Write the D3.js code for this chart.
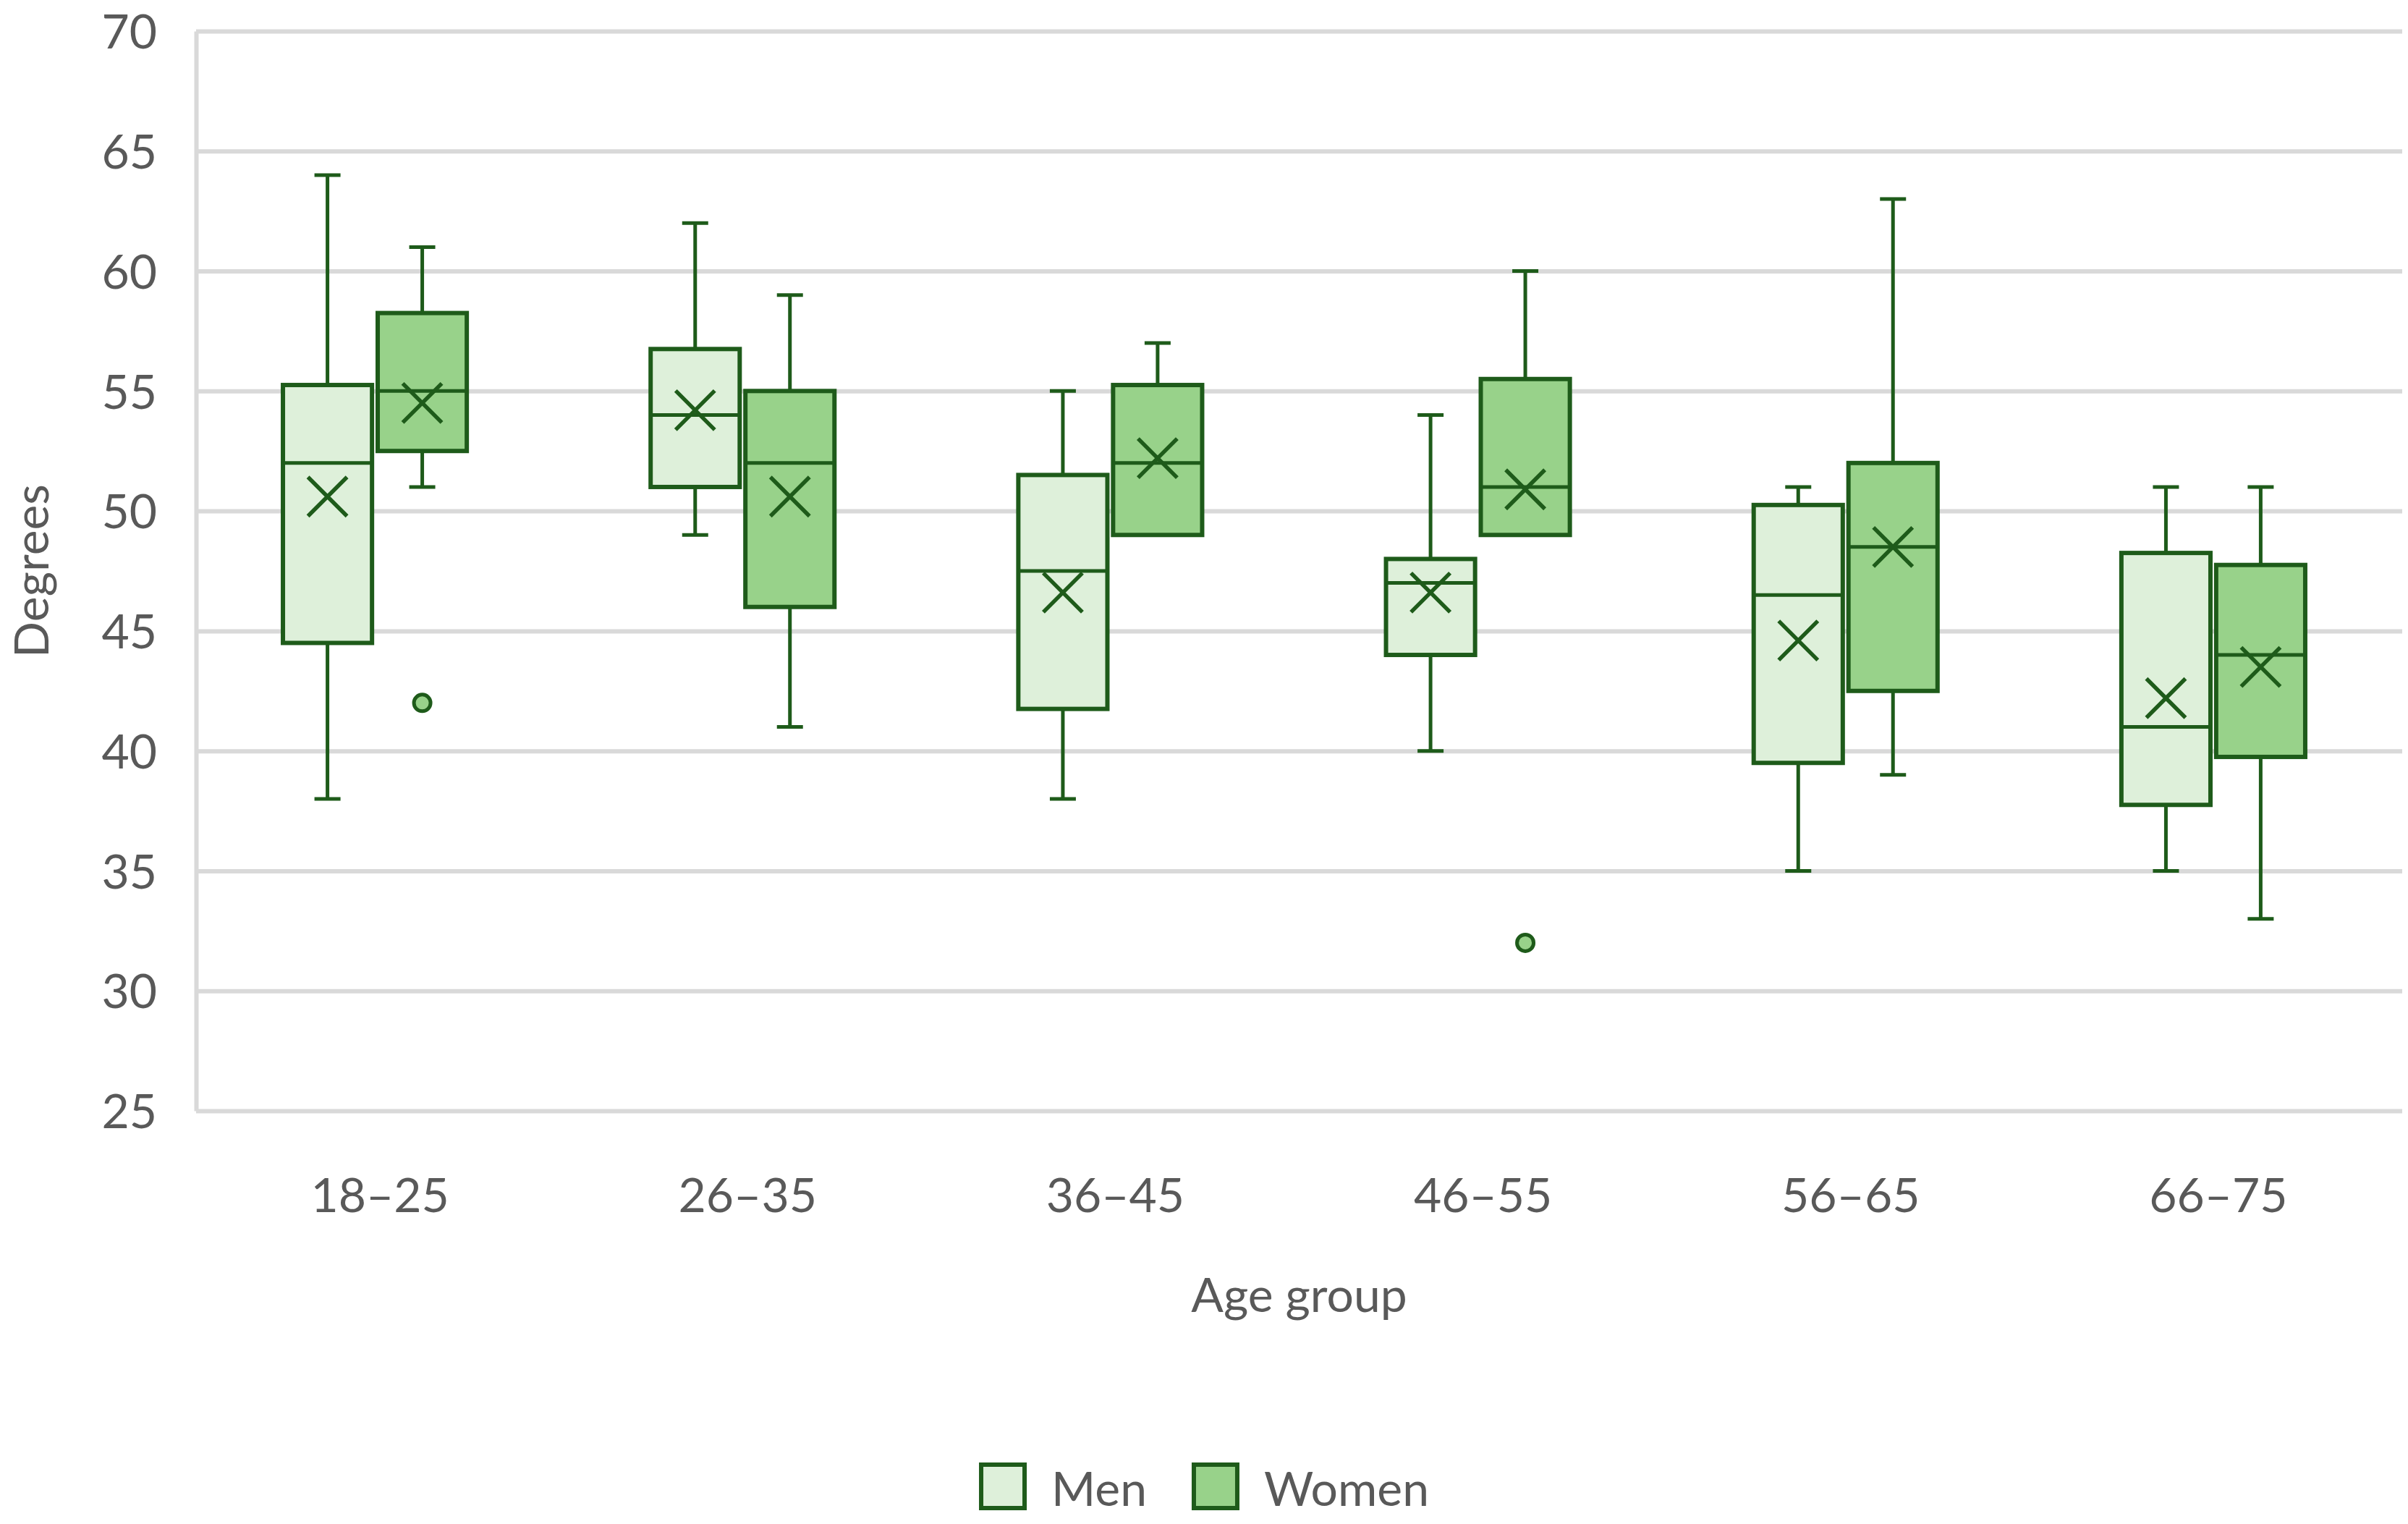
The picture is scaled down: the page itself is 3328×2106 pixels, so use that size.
<!DOCTYPE html>
<html>
<head>
<meta charset="utf-8">
<script src="https://cdn.jsdelivr.net/npm/d3@7"></script>
<style>
  body { margin: 0; background: #fff; }
  text { font-family: Lato, "Open Sans", sans-serif; fill: #595959; }
</style>
</head>
<body>
<div id="chart"></div>
<script>
// data
var ageGroups = ["18–25", "26–35", "36–45", "46–55", "56–65", "66–75"];
var series = ["Men", "Women"];
var yTicks = [25, 30, 35, 40, 45, 50, 55, 60, 65, 70];

var menMin    = [38, 49, 38, 40, 35, 35];
var menQ1     = [44.5, 51, 41.75, 44, 39.5, 37.75];
var menMedian = [52, 54, 47.5, 47, 46.5, 41];
var menQ3     = [55.25, 56.75, 51.5, 48, 50.25, 48.25];
var menMax    = [64, 62, 55, 54, 51, 51];
var menMean   = [50.6, 54.2, 46.6, 46.6, 44.6, 42.2];
var menOutliers = [[], [], [], [], [], []];

var womenMin    = [51, 41, 49, 49, 39, 33];
var womenQ1     = [52.5, 46, 49, 49, 42.5, 39.75];
var womenMedian = [55, 52, 52, 51, 48.5, 44];
var womenQ3     = [58.25, 55, 55.25, 55.5, 52, 47.75];
var womenMax    = [61, 59, 57, 60, 63, 51];
var womenMean   = [54.5, 50.6, 52.2, 50.9, 48.5, 43.5];
var womenOutliers = [[42], [], [], [32], [], []];

var svgWidth = 3328;
var svgHeight = 2106;
var margin = { top: 43, right: 8, bottom: 571, left: 271 };
var width = svgWidth - margin.left - margin.right;
var height = svgHeight - margin.top - margin.bottom;

var stroke = "#1E5B1A";
var fills = { Men: "#DEF0DA", Women: "#98D28A" };

// build box rows from the arrays
var boxes = [];
ageGroups.forEach(function(g, i) {
  boxes.push({ group: g, s: "Men", min: menMin[i], q1: menQ1[i], med: menMedian[i], q3: menQ3[i], max: menMax[i], mean: menMean[i], out: menOutliers[i] });
  boxes.push({ group: g, s: "Women", min: womenMin[i], q1: womenQ1[i], med: womenMedian[i], q3: womenQ3[i], max: womenMax[i], mean: womenMean[i], out: womenOutliers[i] });
});

var svg = d3.select("#chart")
  .append("svg")
  .attr("width", svgWidth)
  .attr("height", svgHeight);

var chartGroup = svg.append("g")
  .attr("transform", `translate(${margin.left}, ${margin.top})`);

var x0 = d3.scaleBand().domain(ageGroups).range([0, width]);
var bw = x0.bandwidth();
var x1 = d3.scaleBand().domain(series)
  .range([bw * 0.25 - 7, bw * 0.75 - 7])
  .paddingInner(0.06);

var y = d3.scaleLinear().domain([25, 70]).range([height, 0]);

// y axis with gridlines
var leftAxis = d3.axisLeft(y).tickValues(yTicks).tickSize(-width).tickSizeOuter(0).tickPadding(54);
var yAxis = chartGroup.append("g").call(leftAxis);
yAxis.select(".domain").attr("stroke", "#D9D9D9").attr("stroke-width", 6);
yAxis.selectAll(".tick line").attr("stroke", "#D9D9D9").attr("stroke-width", 6);
yAxis.selectAll(".tick text")
  .style("font-size", "66px")
  .attr("fill", "#595959")
  .attr("dy", "0.36em");

// x axis labels
var bottomAxis = d3.axisBottom(x0).tickSize(0);
var xAxis = chartGroup.append("g")
  .attr("transform", `translate(0, ${height})`)
  .call(bottomAxis);
xAxis.select(".domain").remove();
xAxis.selectAll(".tick text")
  .style("font-size", "66px")
  .attr("fill", "#595959")
  .attr("y", 140)
  .attr("dy", null);

// boxes
var boxG = chartGroup.selectAll(".box")
  .data(boxes)
  .enter()
  .append("g")
  .attr("class", "box")
  .attr("transform", d => `translate(${x0(d.group) + x1(d.s)}, 0)`);

var boxW = x1.bandwidth();
var capW = 36;
var cx = boxW / 2;

// whiskers
boxG.filter(d => d.max > d.q3).append("line")
  .attr("x1", cx).attr("x2", cx)
  .attr("y1", d => y(d.q3)).attr("y2", d => y(d.max))
  .attr("stroke", stroke).attr("stroke-width", 5);
boxG.filter(d => d.max > d.q3).append("line")
  .attr("x1", cx - capW / 2).attr("x2", cx + capW / 2)
  .attr("y1", d => y(d.max)).attr("y2", d => y(d.max))
  .attr("stroke", stroke).attr("stroke-width", 5);
boxG.filter(d => d.min < d.q1).append("line")
  .attr("x1", cx).attr("x2", cx)
  .attr("y1", d => y(d.q1)).attr("y2", d => y(d.min))
  .attr("stroke", stroke).attr("stroke-width", 5);
boxG.filter(d => d.min < d.q1).append("line")
  .attr("x1", cx - capW / 2).attr("x2", cx + capW / 2)
  .attr("y1", d => y(d.min)).attr("y2", d => y(d.min))
  .attr("stroke", stroke).attr("stroke-width", 5);

// box body
boxG.append("rect")
  .attr("x", 0)
  .attr("width", boxW)
  .attr("y", d => y(d.q3))
  .attr("height", d => y(d.q1) - y(d.q3))
  .attr("fill", d => fills[d.s])
  .attr("stroke", stroke)
  .attr("stroke-width", 6);

// median
boxG.append("line")
  .attr("x1", 0).attr("x2", boxW)
  .attr("y1", d => y(d.med)).attr("y2", d => y(d.med))
  .attr("stroke", stroke).attr("stroke-width", 5);

// mean marker (x)
var mk = 27;
boxG.append("path")
  .attr("d", d => `M${cx - mk},${y(d.mean) - mk}L${cx + mk},${y(d.mean) + mk}M${cx - mk},${y(d.mean) + mk}L${cx + mk},${y(d.mean) - mk}`)
  .attr("stroke", stroke).attr("stroke-width", 5.5).attr("fill", "none");

// outliers
boxG.selectAll(".outlier")
  .data(d => d.out.map(v => ({ v: v, s: d.s })))
  .enter()
  .append("circle")
  .attr("class", "outlier")
  .attr("cx", cx)
  .attr("cy", d => y(d.v))
  .attr("r", 11.5)
  .attr("fill", d => fills[d.s])
  .attr("stroke", stroke)
  .attr("stroke-width", 5);

// axis titles
chartGroup.append("text")
  .attr("transform", `translate(${width / 2}, ${height + 278})`)
  .style("text-anchor", "middle")
  .style("font-size", "66px")
  .text("Age group");

svg.append("text")
  .attr("transform", `translate(67, ${margin.top + height / 2}) rotate(-90)`)
  .style("text-anchor", "middle")
  .style("font-size", "66px")
  .text("Degrees");

// legend, centred on the whole chart
var legend = svg.append("g");
var sq = 66, legY = 2024, xPos = 0;
series.forEach(function(s) {
  var item = legend.append("g").attr("transform", `translate(${xPos}, 0)`);
  item.append("rect")
    .attr("x", 3).attr("y", legY)
    .attr("width", sq - 6).attr("height", sq - 6)
    .attr("fill", fills[s])
    .attr("stroke", stroke)
    .attr("stroke-width", 6);
  var t = item.append("text")
    .attr("x", sq + 34)
    .attr("y", legY + 57)
    .style("font-size", "66px")
    .text(s);
  xPos += sq + 34 + t.node().getComputedTextLength() + 62;
});
var legW = xPos - 62;
legend.attr("transform", `translate(${svgWidth / 2 - legW / 2}, 0)`);
</script>
</body>
</html>
